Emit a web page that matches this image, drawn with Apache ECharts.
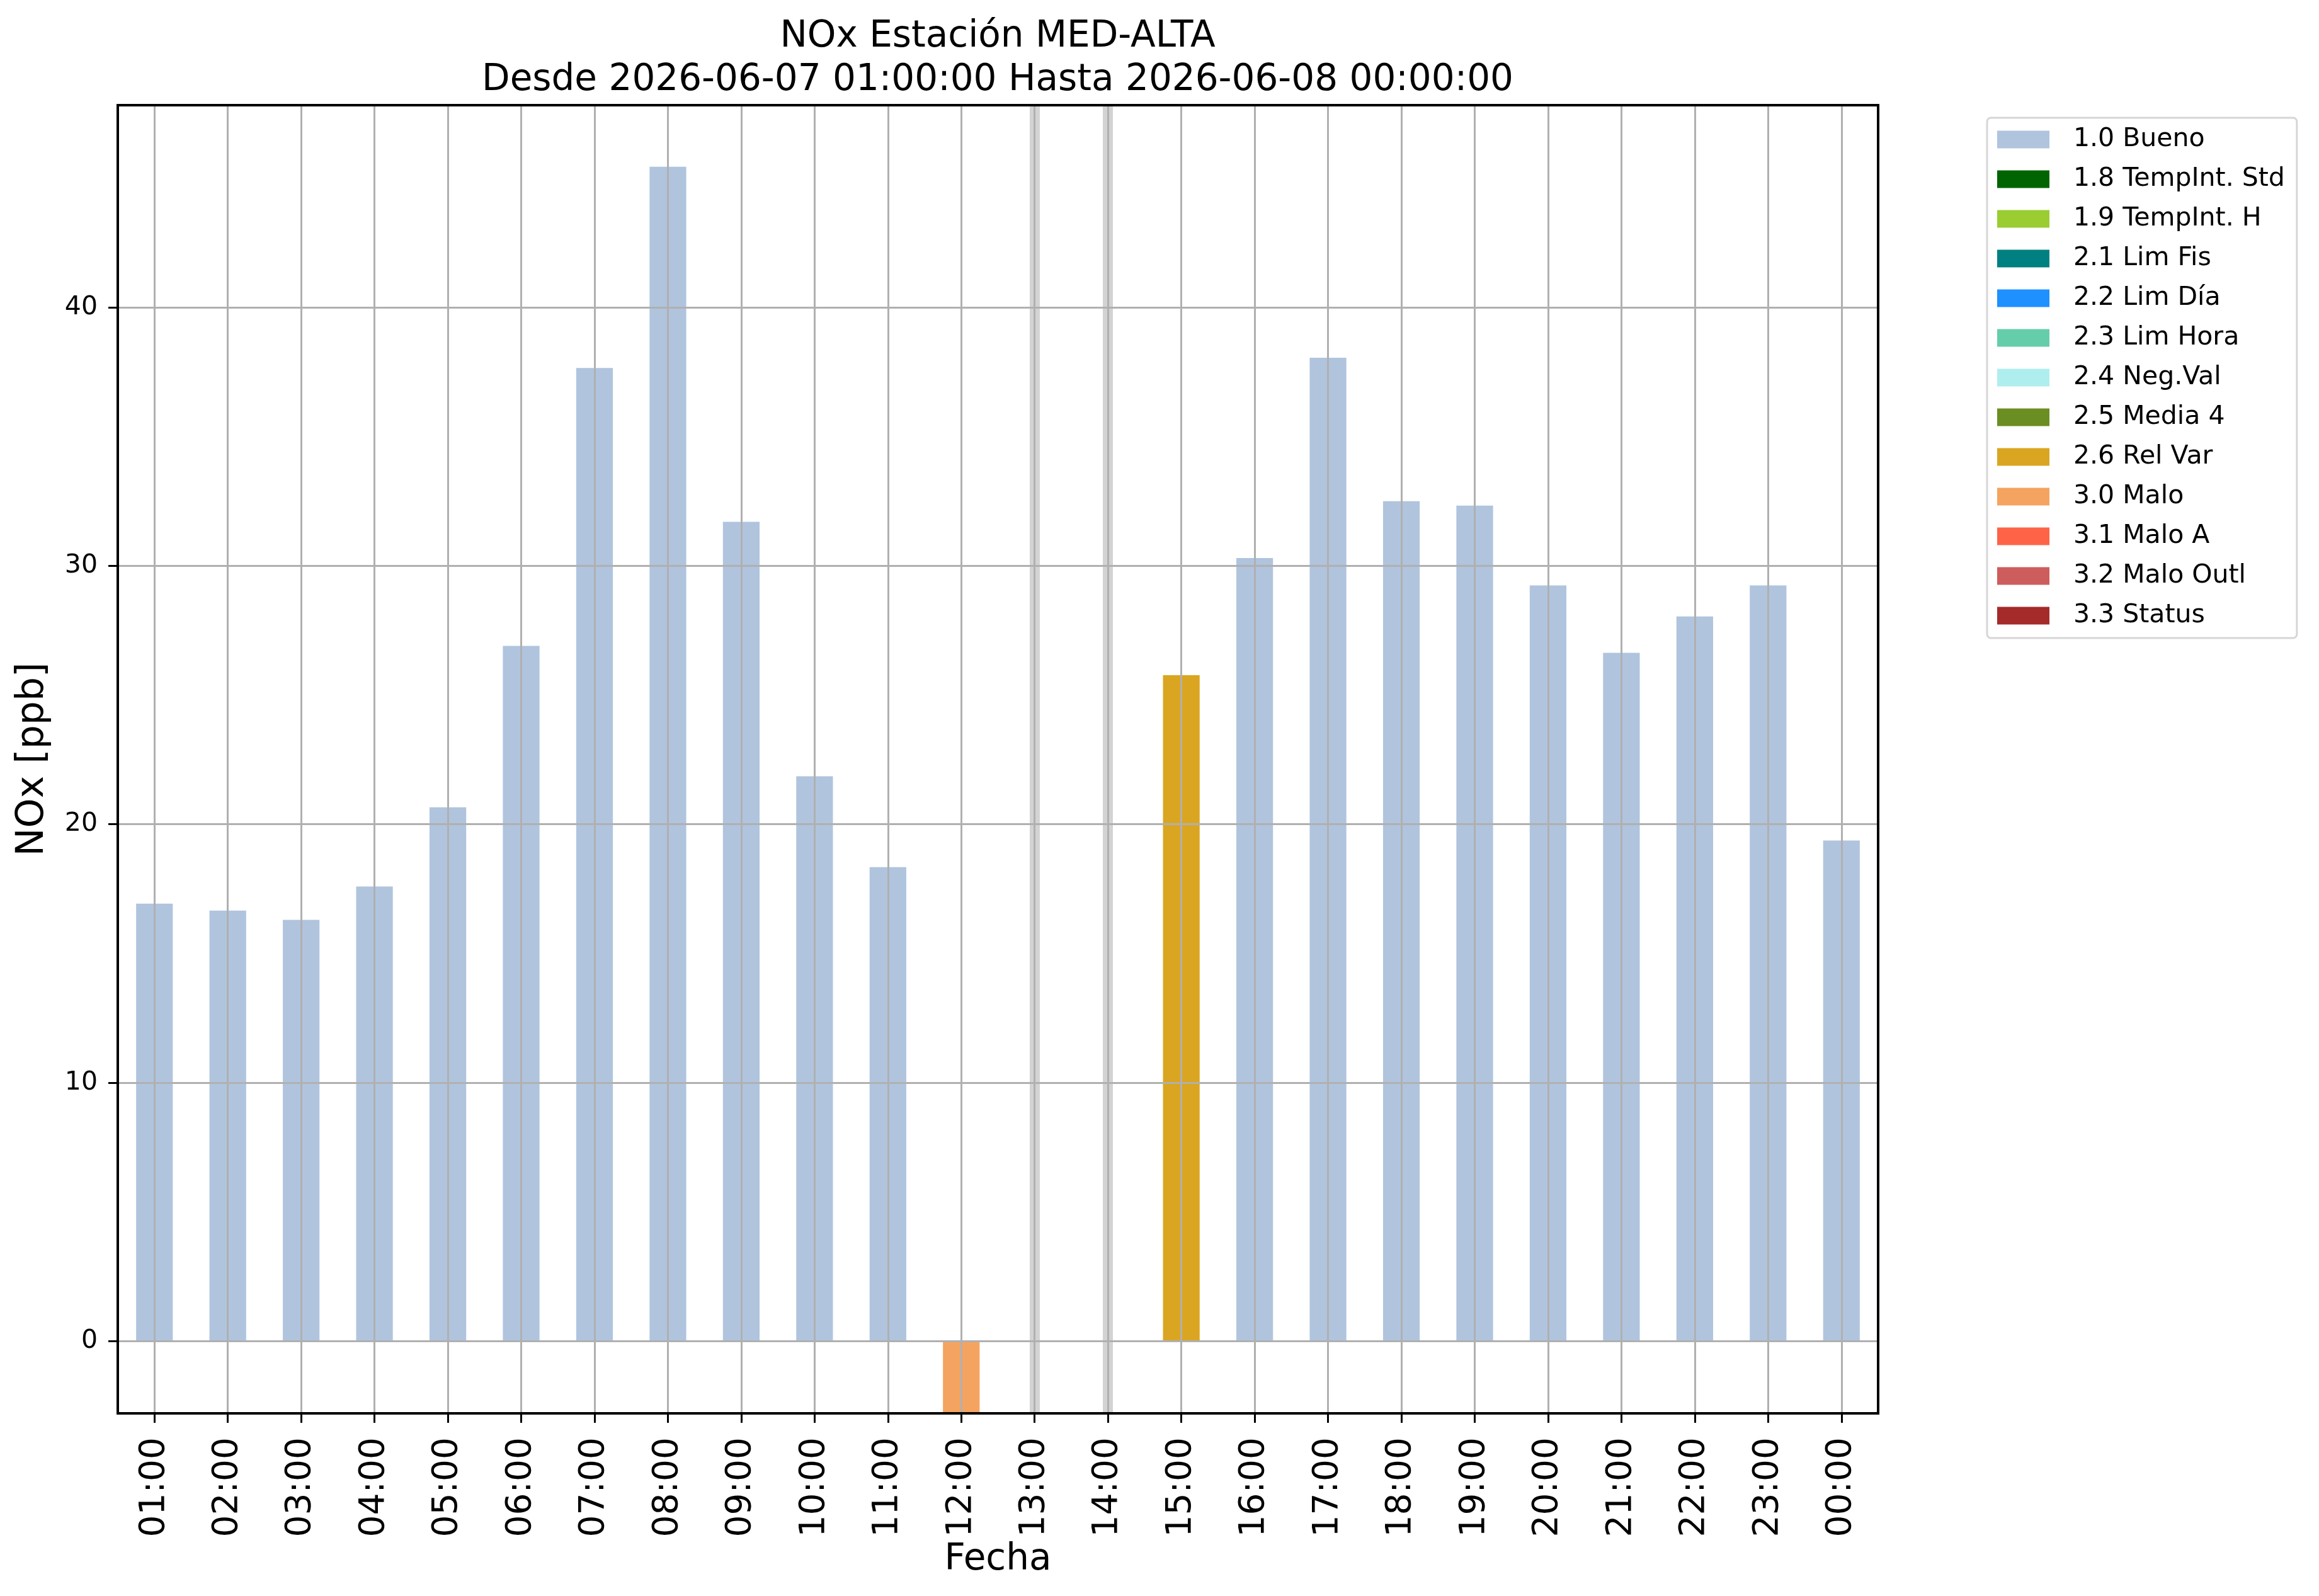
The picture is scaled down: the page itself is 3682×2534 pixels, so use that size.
<!DOCTYPE html>
<html>
<head>
<meta charset="utf-8">
<title>NOx Estación MED-ALTA</title>
<script src="https://cdn.jsdelivr.net/npm/echarts@6/dist/echarts.min.js"></script>
<style>
  html, body { margin: 0; padding: 0; background: #fff; }
  #chart { width: 3682px; height: 2534px; }
</style>
</head>
<body>
<div id="chart"></div>
<script>
// horas del periodo
var horas = ['01:00', '02:00', '03:00', '04:00', '05:00', '06:00', '07:00', '08:00',
  '09:00', '10:00', '11:00', '12:00', '13:00', '14:00', '15:00', '16:00',
  '17:00', '18:00', '19:00', '20:00', '21:00', '22:00', '23:00', '00:00'];

// NOx [ppb] por hora (null = sin dato)
var valores = [16.93, 16.66, 16.30, 17.59, 20.66, 26.90, 37.65, 45.44,
  31.70, 21.86, 18.34, -3.0, null, null, 25.77, 30.30,
  38.05, 32.50, 32.33, 29.24, 26.63, 28.04, 29.24, 19.37];

// flag de validacion de cada hora
var flags = ['1.0', '1.0', '1.0', '1.0', '1.0', '1.0', '1.0', '1.0',
  '1.0', '1.0', '1.0', '3.0', null, null, '2.6', '1.0',
  '1.0', '1.0', '1.0', '1.0', '1.0', '1.0', '1.0', '1.0'];

// horas sin dato (bandas grises)
var sinDato = ['13:00', '14:00'];

// leyenda de flags
var flagCodes = ['1.0', '1.8', '1.9', '2.1', '2.2', '2.3', '2.4', '2.5', '2.6', '3.0', '3.1', '3.2', '3.3'];
var flagNames = ['1.0 Bueno', '1.8 TempInt. Std', '1.9 TempInt. H', '2.1 Lim Fis', '2.2 Lim Día',
  '2.3 Lim Hora', '2.4 Neg.Val', '2.5 Media 4', '2.6 Rel Var', '3.0 Malo', '3.1 Malo A',
  '3.2 Malo Outl', '3.3 Status'];
var flagColors = ['#B0C4DE', '#006400', '#9ACD32', '#008080', '#1E90FF', '#66CDAA', '#AFEEEE',
  '#6B8E23', '#DAA520', '#F4A460', '#FF6347', '#CD5C5C', '#A52A2A'];

var FONT = 'DejaVu Sans';

// eje auxiliar en medias horas: la rejilla vertical cae en el centro de cada hora
var medias = [];
for (var k = 0; k <= horas.length * 2; k++) medias.push(String(k));

var chart = echarts.init(document.getElementById('chart'), null, { renderer: 'canvas' });

var series = [];
for (var i = 0; i < flagCodes.length; i++) {
  var data = [];
  for (var j = 0; j < horas.length; j++) {
    data.push(flags[j] === flagCodes[i] ? valores[j] : '-');
  }
  var s = {
    name: flagNames[i],
    type: 'bar',
    stack: 'total',
    barWidth: '50%',
    clip: true,
    xAxisIndex: 0,
    itemStyle: { color: flagColors[i] },
    emphasis: { disabled: true },
    data: data
  };
  if (i === 0) {
    s.markLine = {
      silent: true,
      z: 1,
      symbol: ['none', 'none'],
      label: { show: false },
      lineStyle: { color: '#d3d3d3', width: 16, type: 'solid' },
      emphasis: { disabled: true },
      data: sinDato.map(function (h) { return { xAxis: h }; })
    };
  }
  series.push(s);
}

var option = {
  backgroundColor: '#fff',
  animation: false,
  title: {
    text: 'NOx Estación MED-ALTA\nDesde 2026-06-07 01:00:00 Hasta 2026-06-08 00:00:00',
    left: 1584,
    top: 24,
    padding: 0,
    textAlign: 'center',
    textStyle: {
      fontFamily: FONT,
      fontSize: 58,
      fontWeight: 'normal',
      lineHeight: 69,
      color: '#000'
    }
  },
  legend: {
    orient: 'vertical',
    left: 3155,
    top: 187,
    padding: [14, 19, 15, 16],
    itemWidth: 83,
    itemHeight: 28,
    itemGap: 22,
    icon: 'rect',
    selectedMode: false,
    backgroundColor: '#fff',
    borderColor: '#d6d6d6',
    borderWidth: 3,
    borderRadius: 6,
    textStyle: {
      fontFamily: FONT,
      fontSize: 41,
      color: '#000',
      padding: [0, 0, 0, 33]
    },
    data: flagNames
  },
  grid: {
    left: 187,
    right: 700,
    top: 167,
    bottom: 290,
    show: true,
    z: 10,
    backgroundColor: 'transparent',
    borderColor: '#000',
    borderWidth: 4,
    containLabel: false
  },
  xAxis: [{
    type: 'category',
    data: horas,
    z: 5,
    boundaryGap: true,
    name: 'Fecha',
    nameLocation: 'middle',
    nameGap: 198,
    nameTextStyle: { fontFamily: FONT, fontSize: 58, color: '#000' },
    axisLine: { show: true, onZero: false, lineStyle: { color: '#000', width: 4 } },
    axisTick: { show: true, alignWithLabel: true, length: 15, lineStyle: { color: '#000', width: 3 } },
    axisLabel: {
      rotate: 90,
      margin: 38,
      interval: 0,
      fontFamily: FONT,
      fontSize: 55,
      color: '#000'
    },
    splitLine: { show: false }
  }, {
    type: 'category',
    data: medias,
    position: 'bottom',
    z: 5,
    boundaryGap: false,
    axisLine: { show: false, onZero: false },
    axisTick: { show: false },
    axisLabel: { show: false },
    splitLine: {
      show: true,
      interval: function (idx) { return idx % 2 === 1; },
      lineStyle: { color: '#b0b0b0', width: 3 }
    }
  }],
  yAxis: {
    type: 'value',
    min: -2.79,
    max: 47.82,
    splitNumber: 5,
    z: 5,
    name: 'NOx [ppb]',
    nameLocation: 'middle',
    nameRotate: 90,
    nameGap: 105,
    nameTextStyle: { fontFamily: FONT, fontSize: 60, color: '#000' },
    axisLine: { show: true, onZero: false, lineStyle: { color: '#000', width: 4 } },
    axisTick: { show: true, length: 15, lineStyle: { color: '#000', width: 3 } },
    axisLabel: {
      margin: 32,
      showMinLabel: false,
      showMaxLabel: false,
      fontFamily: FONT,
      fontSize: 41,
      color: '#000'
    },
    splitLine: { show: true, showMinLine: false, showMaxLine: false, lineStyle: { color: '#b0b0b0', width: 3 } }
  },
  series: series
};

chart.setOption(option);
</script>
</body>
</html>
